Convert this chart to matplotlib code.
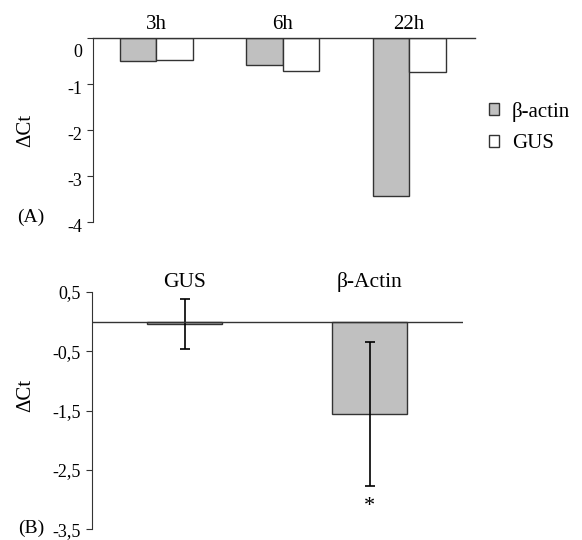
import matplotlib
matplotlib.use("Agg")
from matplotlib import pyplot as plt
from matplotlib.patches import Patch
from matplotlib.transforms import ScaledTranslation
import numpy as np

plt.rcParams['font.family'] = ['Liberation Serif', 'DejaVu Serif']

# panel A
times = ['3h', '6h', '22h']
actin_a = [-0.50, -0.59, -3.43]
gus_a = [-0.48, -0.72, -0.74]

# panel B
genes_b = ['GUS', 'β-Actin']
mean_b = [-0.04, -1.56]
err_b = [0.42, 1.22]

gray = '#c0c0c0'
edge = '#333333'

fig = plt.figure(figsize=(5.82, 5.40), dpi=100)

# ---- (A)
ax1 = fig.add_axes([0.160, 0.589, 0.656, 0.341])
x = np.arange(len(times))
w = 0.29
ax1.bar(x - w / 2, actin_a, w, color=gray, edgecolor=edge, linewidth=1.0)
ax1.bar(x + w / 2, gus_a, w, color='white', edgecolor=edge, linewidth=1.0)
ax1.axhline(0, color=edge, linewidth=1.0, clip_on=False)
ax1.set_xlim(-0.5, 2.52)
ax1.set_ylim(-4, 0)
ax1.set_yticks([0, -1, -2, -3, -4])
ax1.set_yticklabels(['0', '-1', '-2', '-3', '-4'])
ax1.set_xticks([])
for s in ['top', 'right', 'bottom']:
    ax1.spines[s].set_visible(False)
ax1.spines['left'].set_color(edge)
ax1.tick_params(axis='y', direction='out', length=4, labelsize=13, color=edge, pad=4)
ax1.tick_params(axis='y', which='major', left=True)
# labels in the original sit a little below their ticks ("0" clearly so)
for i, lab in enumerate(ax1.get_yticklabels()):
    dy = -0.13 if i == 0 else -0.04
    lab.set_transform(lab.get_transform() + ScaledTranslation(0, dy, fig.dpi_scale_trans))
for i, t in enumerate(times):
    ax1.text(x[i], 1.07, t, transform=ax1.get_xaxis_transform(),
             ha='center', va='center', fontsize=15)
handles = [Patch(facecolor=gray, edgecolor=edge, label='β-actin'),
           Patch(facecolor='white', edgecolor=edge, label='GUS')]
fig.legend(handles=handles, loc='center left', bbox_to_anchor=(0.808, 0.764),
           frameon=False, fontsize=15, handlelength=0.5, handleheight=0.5,
           handletextpad=0.6, labelspacing=0.6)
fig.text(0.045, 0.758, 'ΔCt', rotation=90, ha='center', va='center', fontsize=15)
fig.text(0.053, 0.597, '(A)', ha='center', va='center', fontsize=14)

# ---- (B)
ax2 = fig.add_axes([0.158, 0.020, 0.638, 0.4395])
xb = np.arange(len(genes_b))
ax2.bar(xb, mean_b, 0.405, color=[gray, gray], edgecolor=edge, linewidth=1.0)
ax2.errorbar(xb, mean_b, yerr=err_b, fmt='none', ecolor='black',
             elinewidth=1.2, capsize=3.5, capthick=1.2)
ax2.axhline(0, color=edge, linewidth=1.0)
ax2.set_xlim(-0.5, 1.505)
ax2.set_ylim(-3.5, 0.5)
ax2.set_yticks([0.5, -0.5, -1.5, -2.5, -3.5])
ax2.set_yticklabels(['0,5', '-0,5', '-1,5', '-2,5', '-3,5'])
ax2.set_xticks([])
for s in ['top', 'right', 'bottom']:
    ax2.spines[s].set_visible(False)
ax2.spines['left'].set_color(edge)
ax2.tick_params(axis='y', direction='out', length=4, labelsize=13, color=edge, pad=4)
for i, g in enumerate(genes_b):
    ax2.text(xb[i], 1.04, g, transform=ax2.get_xaxis_transform(),
             ha='center', va='center', fontsize=15.5)
ax2.text(1, -3.12, '*', ha='center', va='center', fontsize=16)
fig.text(0.045, 0.267, 'ΔCt', rotation=90, ha='center', va='center', fontsize=15)
fig.text(0.053, 0.022, '(B)', ha='center', va='center', fontsize=14)

fig.savefig('out.png', dpi=100)
